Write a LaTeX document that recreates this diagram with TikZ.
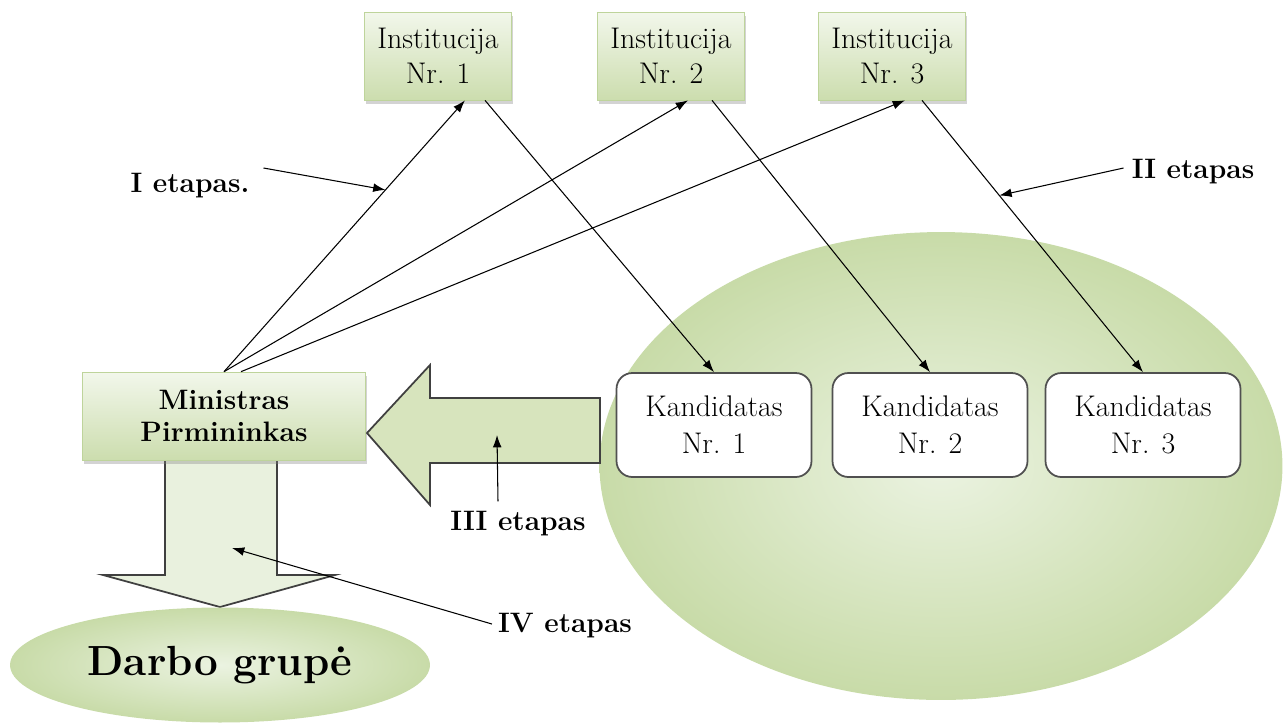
\documentclass[tikz,border=0pt]{standalone}
\usepackage{fontspec}
\usetikzlibrary{arrows.meta,calc,shadows,shapes.geometric}

\definecolor{boxtop}{RGB}{242,247,235}
\definecolor{boxbot}{RGB}{204,221,174}
\definecolor{boxline}{RGB}{190,212,155}
\definecolor{arrowfill}{RGB}{215,228,189}
\definecolor{downfill}{RGB}{233,241,222}
\definecolor{ovalin}{RGB}{235,243,225}
\definecolor{ovalout}{RGB}{200,219,168}
\definecolor{candline}{RGB}{80,80,80}

\begin{document}
\begin{tikzpicture}
[x=0.02cm, y=-0.02cm,
inst/.style={draw=boxline, top color=boxtop, bottom color=boxbot, minimum width=2.94cm, minimum height=1.76cm, align=center, inner sep=1pt, font=\fontsize{17}{20}\selectfont, drop shadow={opacity=0.35, shadow xshift=1pt, shadow yshift=-2pt}},
chief/.style={inst, minimum width=5.66cm, font=\fontsize{16}{18}\selectfont\bfseries},
cand/.style={draw=candline, line width=1pt, fill=white, rounded corners=9pt, minimum width=3.9cm, minimum height=2.08cm, align=center, font=\fontsize{17}{21}\selectfont},
oval/.style={ellipse, draw=none, shading=radial, inner color=ovalin, outer color=ovalout, inner sep=0pt},
bigarrow/.style={draw=black!75, line width=1pt, fill=arrowfill},
downarrow/.style={draw=black!75, line width=1pt, fill=downfill},
link/.style={-{Latex[length=7pt,width=5pt]}, line width=0.6pt},
stage/.style={font=\fontsize{16}{18}\selectfont\bfseries}]
\useasboundingbox (0,0) rectangle (1285,725);

% candidates pool
\node[oval, minimum width=13.66cm, minimum height=9.36cm] (pool) at (941,466) {};
\node[cand] (k1) at (714,425) {Kandidatas\\Nr. 1};
\node[cand] (k2) at (930,425) {Kandidatas\\Nr. 2};
\node[cand] (k3) at (1143,425) {Kandidatas\\Nr. 3};

% institutions
\node[inst] (inst1) at (438,56) {Institucija\\Nr. 1};
\node[inst] (inst2) at (671,56) {Institucija\\Nr. 2};
\node[inst] (inst3) at (892,56) {Institucija\\Nr. 3};

% prime minister and working group
\draw[downarrow] (165,460) -- (165,575) -- (103,575) -- (220,607) -- (335,575) -- (277,575) -- (277,460) -- cycle;
\node[chief] (min) at (224,416) {Ministras\\Pirmininkas};
\node[oval, minimum width=8.4cm, minimum height=2.3cm] (group) at (220,665) {};
\node[font=\fontsize{24}{28}\selectfont\bfseries] (grouptext) at (group) {Darbo grupė};
\draw[bigarrow] (600,398) -- (430,398) -- (430,365) -- (367,433) -- (430,505) -- (430,463) -- (600,463) -- cycle;

% stage I
\draw[link] (min.north) -- ($(inst1.south)+(27,0)$) coordinate[pos=0.67] (p1);
\draw[link] (min.north) -- ($(inst2.south)+(17,0)$);
\draw[link] ($(min.north)+(17,0)$) -- ($(inst3.south)+(13,0)$);
% stage II
\draw[link] ($(inst1.south)+(47,0)$) -- (k1.north);
\draw[link] ($(inst2.south)+(41,0)$) -- (k2.north);
\draw[link] ($(inst3.south)+(30,0)$) -- (k3.north) coordinate[pos=0.35] (p2);

% labels
\node[stage] (lab1) at (190,186) {I etapas.};
\node[stage] (lab2) at (1193,172) {II etapas};
\node[stage] (lab3) at (518,524) {III etapas};
\node[stage] (lab4) at (565,626) {IV etapas};
\coordinate (p3) at (497,435);
\coordinate (p4) at (232,548);
\draw[link] ($(lab1.east)+(8,-18)$) -- (p1);
\draw[link] ($(lab2.west)+(-2,-4)$) -- (p2);
\draw[link] ($(lab3.north)+(-20,-4)$) -- (p3);
\draw[link] ($(lab4.west)+(0,-2)$) -- (p4);
\end{tikzpicture}
\end{document}
